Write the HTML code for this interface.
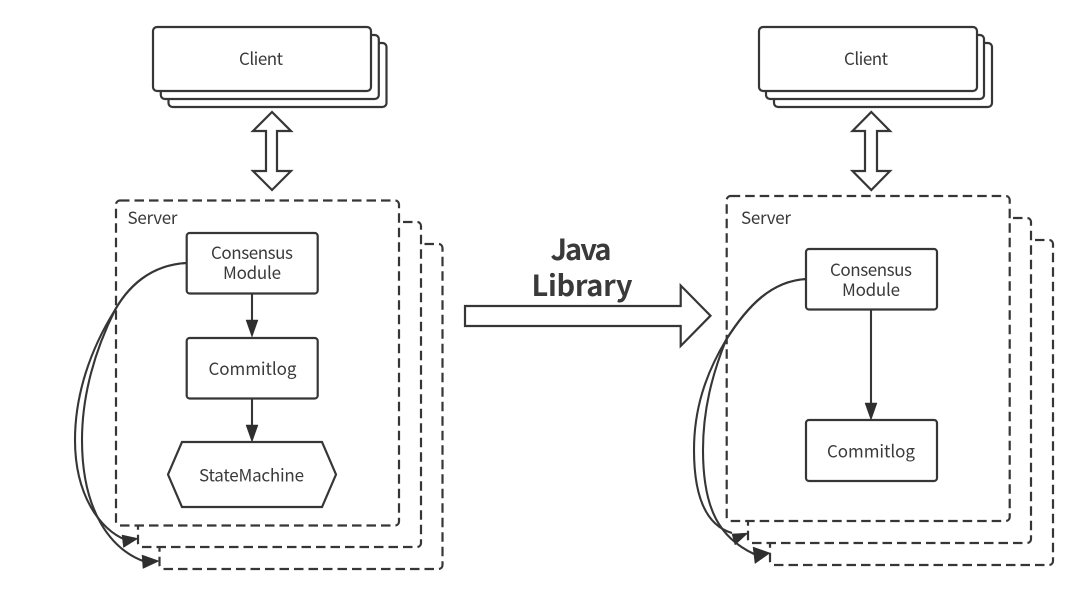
<!DOCTYPE html>
<html>
<head>
<meta charset="utf-8">
<style>
html,body{margin:0;padding:0;background:#fff;width:1080px;height:596px;overflow:hidden}
svg{display:block;filter:blur(0.35px)}
text{font-family:"Noto Sans CJK SC","Liberation Sans",sans-serif;fill:#3a3a3a;font-size:17px;text-anchor:middle}
.s{fill:#fff;stroke:#363636;stroke-width:2.200}
.d{fill:#fff;stroke:#363636;stroke-width:2.200;stroke-dasharray:9.500 5}
.l{fill:none;stroke:#363636;stroke-width:2.100}
.a{fill:#2f2f2f;stroke:#2f2f2f;stroke-width:0.500}
.b{font-size:29px;font-weight:700}
</style>
</head>
<body>
<svg width="1080" height="596" viewBox="0 0 1080 596" xmlns="http://www.w3.org/2000/svg">
<!-- Left clients -->
<rect class="s" x="168.500" y="43" width="218" height="64" rx="4"/>
<rect class="s" x="160.800" y="35" width="218" height="64" rx="4"/>
<rect class="s" x="153" y="27" width="218" height="64" rx="4"/>
<text x="261" y="65" textLength="44" lengthAdjust="spacing">Client</text>
<path class="s" d="M272 112L291 131H277V171H291L272 190L253 171H266V131H253Z"/>

<!-- Left servers -->
<rect class="d" x="159.500" y="244" width="283" height="325" rx="4"/>
<rect class="d" x="138" y="222" width="283" height="325" rx="4"/>
<rect class="d" x="116" y="200.500" width="283" height="325" rx="4"/>
<text x="152.500" y="224" textLength="50" lengthAdjust="spacing">Server</text>

<rect class="s" x="186.700" y="233" width="131" height="60.500" rx="3"/>
<text x="252" y="259" textLength="82" lengthAdjust="spacing">Consensus</text>
<text x="252" y="279" textLength="58" lengthAdjust="spacing">Module</text>
<rect class="s" x="186.700" y="338" width="131" height="60.500" rx="3"/>
<text x="252.500" y="375" textLength="88" lengthAdjust="spacing">Commitlog</text>
<path class="s" d="M182 442H322L336 474.500L322 507H182L168 474.500Z"/>
<text x="251.500" y="481.500" textLength="105" lengthAdjust="spacing">StateMachine</text>

<path class="l" d="M252 294V326"/>
<path class="a" d="M246 320H258L252 337Z"/>
<path class="l" d="M252 398V431"/>
<path class="a" d="M246 425H258L252 442Z"/>

<path class="l" d="M186.500 263C150 265 128 287 115 310C90 350 75 395 75 440C75 495 100 530 126 540"/>
<path class="l" d="M186.500 263C150 265 128 287 115 310C95 350 82 395 82 440C82 510 110 550 146 562"/>
<path class="a" d="M122 535L138 538.500L123.500 547.500Z"/>
<path class="a" d="M142 555L159 561L143 568.500Z"/>

<!-- Centre -->
<text class="b" x="581" y="260" textLength="61" lengthAdjust="spacing">Java</text>
<text class="b" x="582" y="296" textLength="101" lengthAdjust="spacing">Library</text>
<path class="s" d="M465 306H680.700V285.500L710.500 315.700L680.700 346V326H465Z"/>

<!-- Right clients -->
<rect class="s" x="774" y="43" width="218" height="64" rx="4"/>
<rect class="s" x="766" y="35" width="218" height="64" rx="4"/>
<rect class="s" x="759" y="27" width="218" height="64" rx="4"/>
<text x="866" y="65" textLength="44" lengthAdjust="spacing">Client</text>
<path class="s" d="M871.300 112L890 131H877V171H890L871.300 190L852.500 171H865V131H852.500Z"/>

<!-- Right servers -->
<rect class="d" x="770" y="240" width="283" height="325" rx="4"/>
<rect class="d" x="748" y="218" width="283" height="325" rx="4"/>
<rect class="d" x="726.700" y="196" width="283" height="325" rx="4"/>
<text x="766" y="224" textLength="50" lengthAdjust="spacing">Server</text>

<rect class="s" x="806" y="249" width="131" height="60.500" rx="3"/>
<text x="871" y="276" textLength="82" lengthAdjust="spacing">Consensus</text>
<text x="871" y="296" textLength="58" lengthAdjust="spacing">Module</text>
<rect class="s" x="806" y="420" width="131" height="61" rx="3"/>
<text x="871" y="457.500" textLength="88" lengthAdjust="spacing">Commitlog</text>
<path class="l" d="M871 310V408"/>
<path class="a" d="M865 403H877L871 420Z"/>

<path class="l" d="M806 279C772 281 748 305 726 340C705 375 694 410 694 450C694 495 705 525 732 533"/>
<path class="l" d="M806 279C772 281 748 305 726 340C712 375 703 410 703 450C703 510 720 538 754 554"/>
<path class="a" d="M732 534L748 533L735 545Z"/>
<path class="a" d="M753 547L770 553L755 563.500Z"/>
</svg>
</body>
</html>
